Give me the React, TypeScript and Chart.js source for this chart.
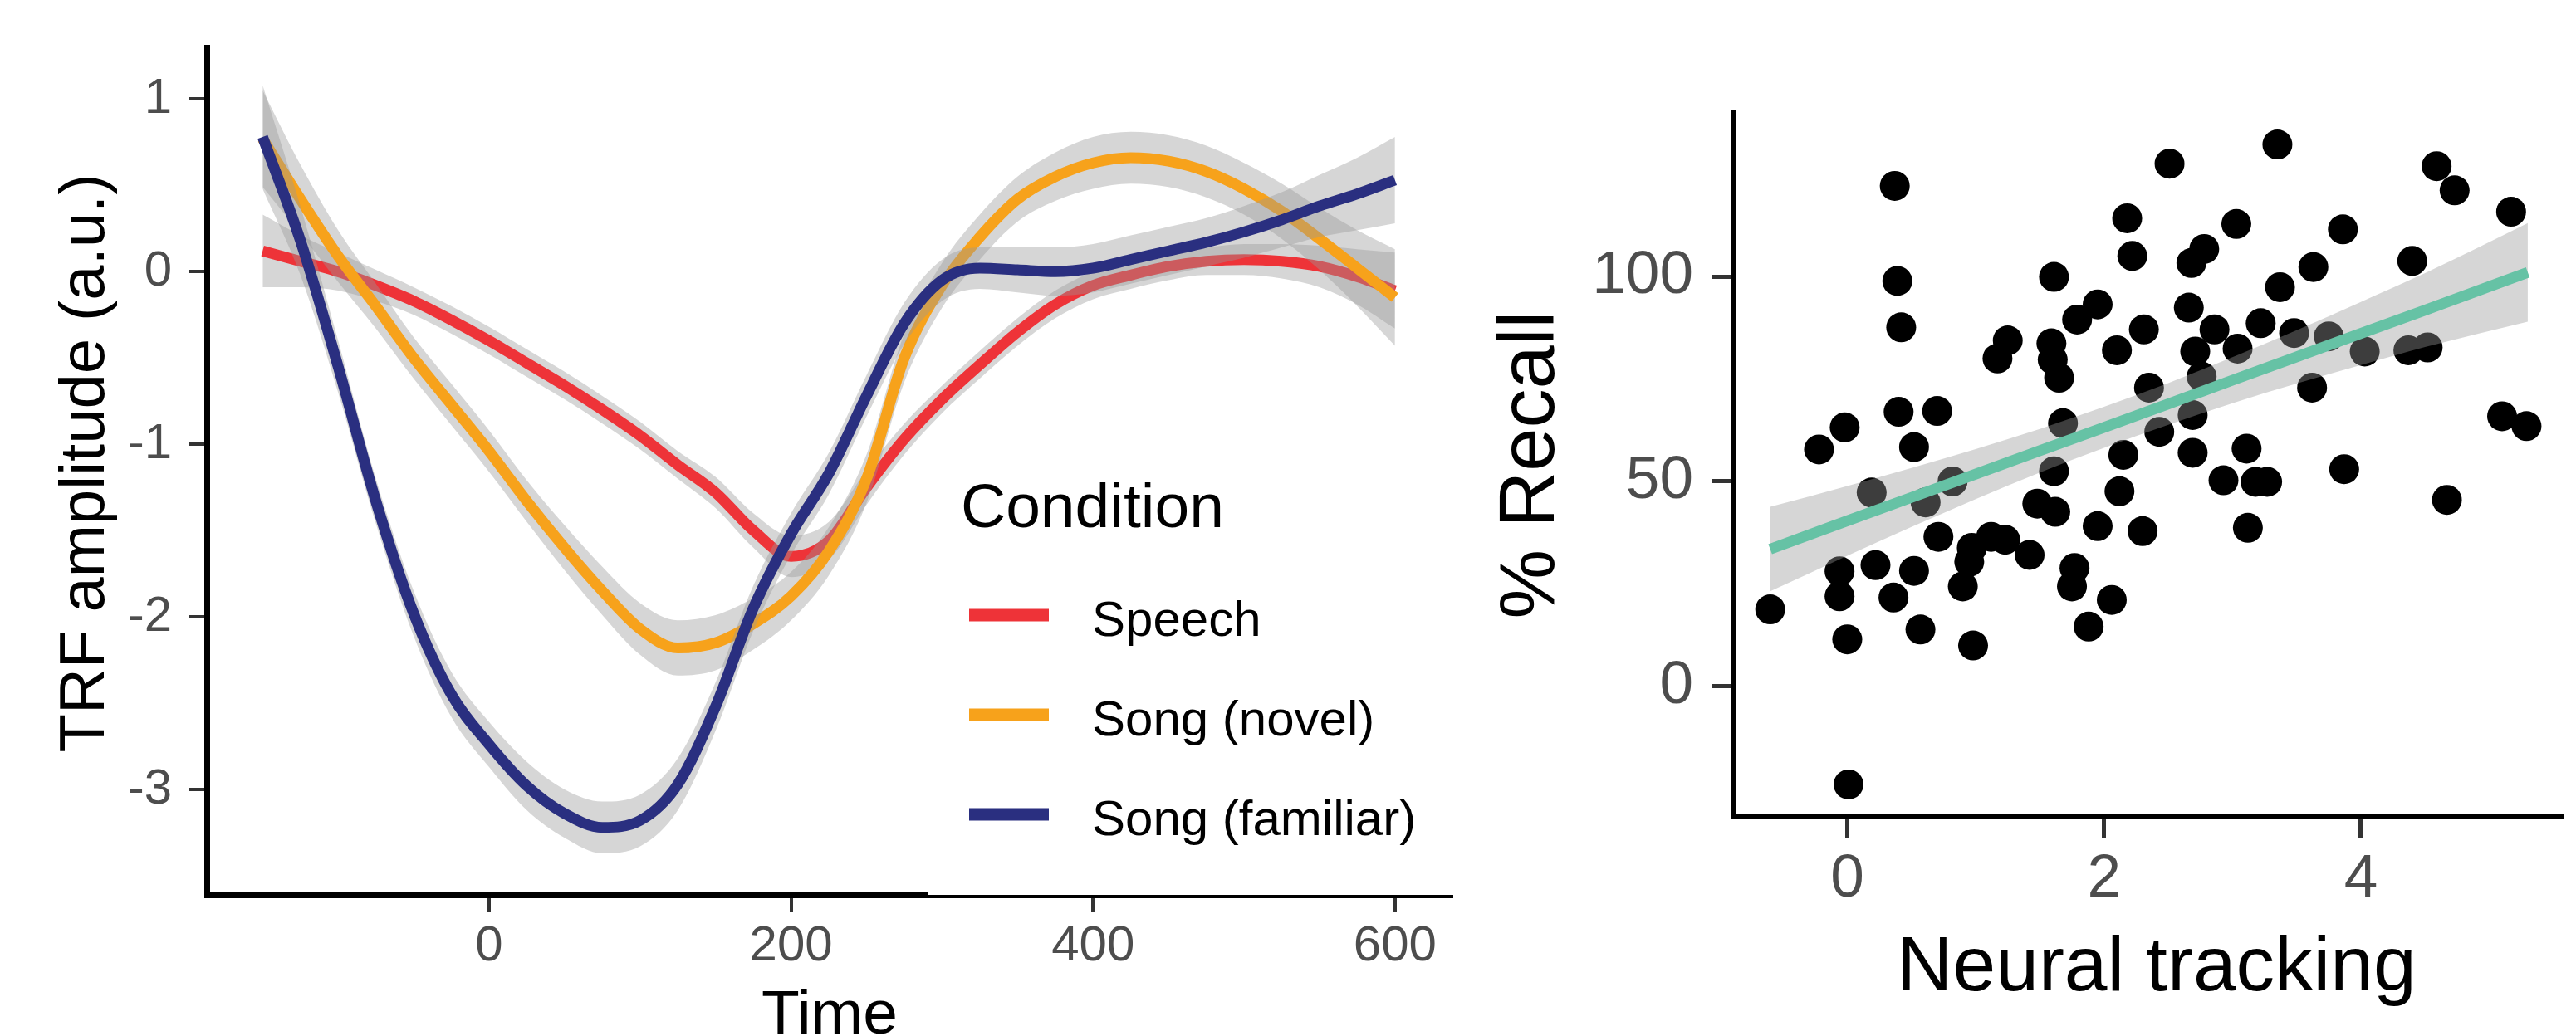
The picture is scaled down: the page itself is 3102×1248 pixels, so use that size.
import React, { useEffect, useRef } from "react";
import { Chart, registerables } from "chart.js";

Chart.register(...registerables);

const FONT = '"Liberation Sans", Arial, Helvetica, sans-serif';
const TICK_GREY = "#4D4D4D";
const RIBBON = "rgba(153,153,153,0.4)";

// ---------- Left panel: TRF curves ----------
const timePoints = [-150, -125, -100, -75, -50, -25, 0, 25, 50, 75, 100, 125, 150, 175, 200, 225, 250, 275, 300, 325, 350, 375, 400, 425, 450, 475, 500, 525, 550, 575, 600];
const speech = [0.12, 0.06, 0.0, -0.08, -0.17, -0.28, -0.4, -0.53, -0.66, -0.8, -0.95, -1.12, -1.28, -1.5, -1.65, -1.56, -1.25, -0.97, -0.74, -0.54, -0.35, -0.19, -0.08, -0.02, 0.03, 0.06, 0.07, 0.06, 0.03, -0.03, -0.11];
const speechBand = [0.21, 0.15, 0.11, 0.09, 0.08, 0.08, 0.08, 0.08, 0.08, 0.08, 0.08, 0.08, 0.09, 0.1, 0.12, 0.11, 0.1, 0.09, 0.08, 0.08, 0.08, 0.08, 0.08, 0.08, 0.08, 0.08, 0.09, 0.1, 0.12, 0.16, 0.22];
const songNovel = [0.77, 0.42, 0.09, -0.2, -0.5, -0.77, -1.04, -1.33, -1.6, -1.85, -2.07, -2.18, -2.15, -2.04, -1.88, -1.62, -1.2, -0.5, -0.08, 0.2, 0.42, 0.55, 0.63, 0.66, 0.64, 0.58, 0.48, 0.35, 0.19, 0.02, -0.15];
const songNovelBand = [0.28, 0.2, 0.15, 0.13, 0.12, 0.12, 0.12, 0.12, 0.13, 0.14, 0.15, 0.16, 0.16, 0.15, 0.14, 0.14, 0.14, 0.14, 0.13, 0.13, 0.13, 0.14, 0.15, 0.15, 0.15, 0.15, 0.15, 0.16, 0.18, 0.22, 0.28];
const songFamiliar = [0.78, 0.18, -0.55, -1.33, -1.98, -2.45, -2.74, -2.98, -3.14, -3.22, -3.18, -2.97, -2.52, -1.95, -1.52, -1.17, -0.72, -0.3, -0.05, 0.02, 0.01, 0.0, 0.02, 0.07, 0.12, 0.17, 0.23, 0.3, 0.38, 0.45, 0.53];
const songFamiliarBand = [0.3, 0.2, 0.15, 0.13, 0.13, 0.13, 0.13, 0.14, 0.14, 0.15, 0.15, 0.15, 0.14, 0.13, 0.12, 0.12, 0.12, 0.12, 0.12, 0.12, 0.13, 0.14, 0.14, 0.14, 0.14, 0.14, 0.15, 0.16, 0.18, 0.21, 0.25];
const conditionLabels = ["Speech", "Song (novel)", "Song (familiar)"];
const conditionColors = ["#EE3338", "#F7A21B", "#2A2F80"];
const timeTicks = [0, 200, 400, 600];
const amplitudeTicks = [-3, -2, -1, 0, 1];

// ---------- Right panel: recall vs neural tracking ----------
const trackingX = [
  0.37, 0.39, 0.42, 2.18, 2.22, 1.61, 1.25, 1.17, 1.59, 1.6, 1.65, 1.79, 1.95, 2.1, 2.31, -0.02, -0.22, 0.4, 0.7, 0.52, 1.68, 2.35,
  2.51, 3.35, 4.59, 4.73, 5.17, 3.03, 3.86, 2.68, 2.78, 4.4, 3.63, 3.37, 2.66, 3.22, 2.86, 2.71, 3.04, 3.48, 3.75, 4.03, 4.37, 4.52, 3.62, 2.76, 2.43, 2.69, 2.69, 3.11, 3.87, 5.1, 5.29,
  0.19, 0.82, 0.61, -0.6, -0.06, -0.06, 0.22, 0.52, 0.36, 0.0, 0.57, 0.98, 0.01, 0.71, 0.97, 1.12, 1.23, 0.95, 0.9, 1.42, 1.77, 1.75, 2.06, 1.88, 1.95, 2.3, 2.12, 2.15, 1.61, 1.48, 1.62,
  2.93, 3.18, 3.27, 4.67, 3.12,
];
const recallY = [
  122.1, 98.9, 87.6, 114.2, 105.0, 99.9, 84.4, 80.0, 83.7, 79.7, 75.3, 89.5, 93.2, 82.0, 87.1, 63.2, 57.8, 67.0, 67.2, 58.4, 64.2, 72.9,
  127.5, 132.2, 126.9, 121.0, 115.8, 112.8, 111.5, 103.3, 106.7, 103.8, 102.3, 97.4, 92.4, 88.6, 87.1, 81.7, 82.4, 86.2, 85.4, 81.7, 82.0, 82.7, 72.9, 75.6, 62.1, 66.2, 57.0, 58.0, 53.0, 65.9, 63.5,
  47.3, 50.0, 44.9, 18.8, 28.1, 22.0, 29.6, 28.2, 21.7, 11.5, 13.9, 10.0, -23.9, 36.5, 33.8, 36.5, 35.8, 30.4, 24.4, 32.1, 28.9, 24.4, 21.1, 14.6, 39.1, 37.9, 47.6, 56.5, 52.5, 44.6, 42.6,
  50.3, 49.9, 49.9, 45.5, 38.7,
];
const fitX = [-0.6, 0, 0.5, 1, 1.5, 2, 2.5, 3, 3.5, 4, 4.5, 5.3];
const fitY = [33.5, 40.4, 46.1, 51.8, 57.5, 63.2, 68.9, 74.7, 80.4, 86.1, 91.8, 101.0];
const fitBand = [10.3, 8.5, 7.2, 6.1, 5.3, 5.0, 5.1, 5.6, 6.5, 7.7, 9.0, 12.0];
const trackingTicks = [0, 2, 4];
const recallTicks = [0, 50, 100];

function fixTicks(values: number[]) {
  return (scale: any) => {
    scale.ticks = values.map((v) => ({ value: v }));
  };
}

function axis(size: number, tickLen: number, tickWidth: number, borderWidth: number, pad: number) {
  return {
    grid: { display: true, drawOnChartArea: false, drawTicks: true, tickLength: tickLen, color: "#333333", lineWidth: tickWidth },
    border: { display: true, color: "#000000", width: borderWidth },
    ticks: { font: { family: FONT, size }, color: TICK_GREY, padding: pad, maxRotation: 0, minRotation: 0, autoSkip: false, callback: (v: any) => String(v) },
  };
}

const leftDecor = {
  id: "leftDecor",
  afterDraw(chart: any) {
    const ctx = chart.ctx;
    ctx.save();
    ctx.fillStyle = "#FFFFFF";
    ctx.fillRect(1117, 560, 1760 - 1117, chart.chartArea.bottom - 560);
    ctx.fillStyle = "#000000";
    ctx.textBaseline = "alphabetic";
    ctx.save();
    ctx.translate(125, 558);
    ctx.rotate(-Math.PI / 2);
    ctx.textAlign = "center";
    ctx.font = `76px ${FONT}`;
    ctx.fillText("TRF amplitude (a.u.)", 0, 0);
    ctx.restore();
    ctx.textAlign = "center";
    ctx.font = `75px ${FONT}`;
    ctx.fillText("Time", 999, 1245);
    ctx.textAlign = "left";
    ctx.font = `75px ${FONT}`;
    ctx.fillText("Condition", 1157, 635);
    ctx.font = `60px ${FONT}`;
    conditionLabels.forEach((lab, i) => {
      const cy = 741 + i * 120;
      ctx.strokeStyle = conditionColors[i];
      ctx.lineWidth = 15;
      ctx.lineCap = "butt";
      ctx.beginPath();
      ctx.moveTo(1167, cy);
      ctx.lineTo(1263, cy);
      ctx.stroke();
      ctx.fillStyle = "#000000";
      ctx.fillText(lab, 1315, cy + 25);
    });
    ctx.restore();
  },
};

const rightDecor = {
  id: "rightDecor",
  afterDraw(chart: any) {
    const ctx = chart.ctx;
    ctx.save();
    ctx.fillStyle = "#000000";
    ctx.textBaseline = "alphabetic";
    ctx.save();
    ctx.translate(111, 560);
    ctx.rotate(-Math.PI / 2);
    ctx.textAlign = "center";
    ctx.font = `94px ${FONT}`;
    ctx.fillText("% Recall", 0, 0);
    ctx.restore();
    ctx.textAlign = "center";
    ctx.font = `93px ${FONT}`;
    ctx.fillText("Neural tracking", 837, 1193);
    ctx.restore();
  },
};

export default function App() {
  const leftRef = useRef<HTMLCanvasElement>(null);
  const rightRef = useRef<HTMLCanvasElement>(null);

  useEffect(() => {
    const series = [
      { label: conditionLabels[0], values: speech, band: speechBand, color: conditionColors[0] },
      { label: conditionLabels[1], values: songNovel, band: songNovelBand, color: conditionColors[1] },
      { label: conditionLabels[2], values: songFamiliar, band: songFamiliarBand, color: conditionColors[2] },
    ];
    const leftDatasets: any[] = [];
    series.forEach((s, i) => {
      const order = 30 - i * 10;
      leftDatasets.push({
        type: "line",
        label: s.label + " upper",
        data: timePoints.map((t, k) => ({ x: t, y: s.values[k] + s.band[k] })),
        borderColor: "rgba(0,0,0,0)",
        borderWidth: 1,
        pointRadius: 0,
        fill: false,
        cubicInterpolationMode: "monotone",
        order,
      });
      leftDatasets.push({
        type: "line",
        label: s.label + " lower",
        data: timePoints.map((t, k) => ({ x: t, y: s.values[k] - s.band[k] })),
        borderColor: "rgba(0,0,0,0)",
        borderWidth: 1,
        pointRadius: 0,
        fill: "-1",
        backgroundColor: RIBBON,
        cubicInterpolationMode: "monotone",
        order,
      });
      leftDatasets.push({
        type: "line",
        label: s.label,
        data: timePoints.map((t, k) => ({ x: t, y: s.values[k] })),
        borderColor: s.color,
        borderWidth: 13,
        borderCapStyle: "butt",
        pointRadius: 0,
        fill: false,
        cubicInterpolationMode: "monotone",
        order: order - 1,
      });
    });

    const left = new Chart(leftRef.current as HTMLCanvasElement, {
      type: "line",
      data: { datasets: leftDatasets },
      options: {
        responsive: false,
        animation: false,
        devicePixelRatio: 1,
        events: [],
        layout: { padding: { left: 0, top: 37, right: 12, bottom: 0 } },
        plugins: { legend: { display: false }, tooltip: { enabled: false } },
        scales: {
          x: {
            type: "linear",
            min: -187,
            max: 637.5,
            afterBuildTicks: fixTicks(timeTicks),
            afterFit: (s: any) => {
              s.height = 1248 - 1078;
            },
            ...axis(60, 21, 4, 7, 5),
          },
          y: {
            type: "linear",
            min: -3.611,
            max: 1.2995,
            afterBuildTicks: fixTicks(amplitudeTicks),
            afterFit: (s: any) => {
              s.width = 249;
            },
            ...axis(60, 21, 4, 7, 21),
          },
        },
      } as any,
      plugins: [leftDecor],
    });

    const right = new Chart(rightRef.current as HTMLCanvasElement, {
      type: "scatter",
      data: {
        datasets: [
          {
            type: "scatter",
            label: "Participants",
            data: trackingX.map((x, i) => ({ x, y: recallY[i] })),
            backgroundColor: "#000000",
            borderColor: "#000000",
            borderWidth: 0,
            pointRadius: 18,
            pointHoverRadius: 18,
            order: 3,
          },
          {
            type: "line",
            label: "fit upper",
            data: fitX.map((x, i) => ({ x, y: fitY[i] + fitBand[i] })),
            borderColor: "rgba(0,0,0,0)",
            borderWidth: 1,
            pointRadius: 0,
            fill: false,
            cubicInterpolationMode: "monotone",
            order: 2,
          },
          {
            type: "line",
            label: "fit lower",
            data: fitX.map((x, i) => ({ x, y: fitY[i] - fitBand[i] })),
            borderColor: "rgba(0,0,0,0)",
            borderWidth: 1,
            pointRadius: 0,
            fill: "-1",
            backgroundColor: RIBBON,
            cubicInterpolationMode: "monotone",
            order: 2,
          },
          {
            type: "line",
            label: "fit",
            data: fitX.map((x, i) => ({ x, y: fitY[i] })),
            borderColor: "#66C2A5",
            borderWidth: 13,
            borderCapStyle: "butt",
            pointRadius: 0,
            fill: false,
            tension: 0,
            order: 1,
          },
        ],
      } as any,
      options: {
        responsive: false,
        animation: false,
        devicePixelRatio: 1,
        events: [],
        layout: { padding: { left: 0, top: 136, right: 0, bottom: 0 } },
        plugins: { legend: { display: false }, tooltip: { enabled: false } },
        scales: {
          x: {
            type: "linear",
            min: -0.889,
            max: 5.559,
            afterBuildTicks: fixTicks(trackingTicks),
            afterFit: (s: any) => {
              s.height = 1248 - 983;
            },
            ...axis(73, 26, 5, 7, 7),
          },
          y: {
            type: "linear",
            min: -31.6,
            max: 139.9,
            afterBuildTicks: fixTicks(recallTicks),
            afterFit: (s: any) => {
              s.width = 327;
            },
            ...axis(73, 25, 5, 7, 23),
          },
        },
      } as any,
      plugins: [rightDecor],
    });

    return () => {
      left.destroy();
      right.destroy();
    };
  }, []);

  return (
    <div style={{ position: "fixed", left: 0, top: 0, width: 3102, height: 1248, background: "#ffffff", overflow: "hidden" }}>
      <canvas ref={leftRef} width={1760} height={1248} style={{ position: "absolute", left: 0, top: 0, width: 1760, height: 1248 }} />
      <canvas ref={rightRef} width={1342} height={1248} style={{ position: "absolute", left: 1760, top: 0, width: 1342, height: 1248 }} />
    </div>
  );
}
